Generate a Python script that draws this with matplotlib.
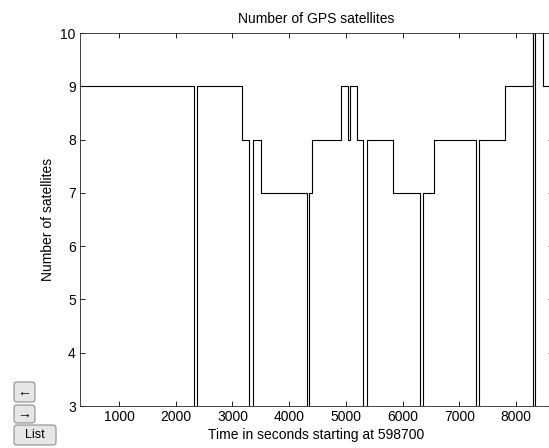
import matplotlib.pyplot as plt
from matplotlib.patches import FancyBboxPatch

# время (с) и число спутников, ступенчатый график
times = [312, 2322, 2375, 3164, 3298, 3368, 3504, 4310, 4356, 4398, 4910, 5044, 5073,
         5202, 5308, 5368, 5826, 6308, 6355, 6560, 7290, 7341, 7353, 7807, 8306, 8308,
         8341, 8482, 8652]
sats = [9, 0, 9, 8, 0, 8, 7, 0, 7, 8, 9, 8, 9,
        8, 0, 8, 7, 0, 7, 8, 0, 5.8, 8, 9, 12, 0,
        12, 9, 9]
xticks = [1000, 2000, 3000, 4000, 5000, 6000, 7000, 8000]
yticks = [3, 4, 5, 6, 7, 8, 9, 10]

plt.rcParams['font.family'] = ['Liberation Sans', 'DejaVu Sans']

W, H = 549, 448
fig = plt.figure(figsize=(W / 100, H / 100), dpi=100)
ax = fig.add_axes([80 / W, (H - 406) / H, (553 - 80) / W, 373 / H])

ax.plot(times, sats, drawstyle='steps-post', color='black', lw=0.8)
ax.set_xlim(312, 8652)
ax.set_ylim(3, 10)
ax.set_xticks(xticks)
ax.set_yticks(yticks)
ax.tick_params(direction='in', top=True, right=True, length=3.6, width=0.6,
               labelsize=10, pad=3, colors='black')
for s in ax.spines.values():
    s.set_linewidth(0.6)
    s.set_color('#262626')

ax.set_title('Number of GPS satellites', fontsize=10, pad=7)
ax.set_xlabel('Time in seconds starting at 598700', fontsize=10, labelpad=3)
ax.set_ylabel('Number of satellites', fontsize=10, labelpad=4)

# кнопки интерфейса
buttons = [('←', 14, 382, 21, 20), ('→', 14, 405, 21, 18), ('List', 14, 425, 42, 20)]
for lab, x, y, w, h in buttons:
    p = FancyBboxPatch((x / W, 1 - (y + h) / H), w / W, h / H,
                       boxstyle='round,pad=0,rounding_size=0.006',
                       transform=fig.transFigure, facecolor='#e6e6e6',
                       edgecolor='#8c8c8c', lw=0.8)
    fig.patches.append(p)
    fig.text((x + w / 2) / W, 1 - (y + h / 2) / H, lab, ha='center', va='center',
             fontsize=9 if lab == 'List' else 10, color='black')

fig.savefig('out.png', dpi=100)
